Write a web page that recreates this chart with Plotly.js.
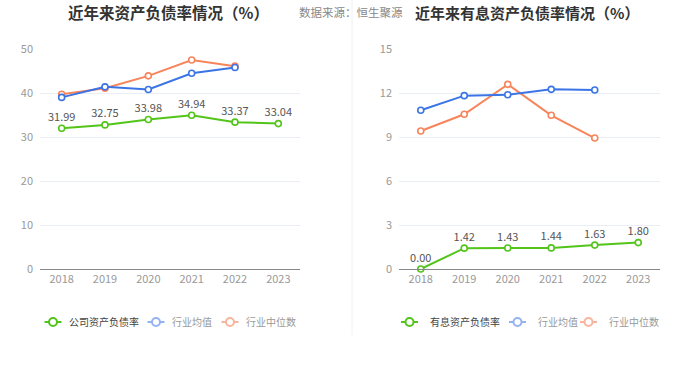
<!DOCTYPE html>
<html><head><meta charset="utf-8">
<script src="https://cdn.plot.ly/plotly-3.0.1.min.js"></script>
<style>html,body{margin:0;padding:0;background:#fff}#c{width:700px;height:377px}</style>
</head><body><div id="c"></div>
<script>
const years = ['2018','2019','2020','2021','2022','2023'];
const companyDebt = [31.99, 32.75, 33.98, 34.94, 33.37, 33.04];
const industryAvgDebt = [39.0, 41.4, 40.8, 44.5, 45.8, null];
const industryMedDebt = [39.7, 41.1, 43.9, 47.5, 46.1, null];
const companyInt = [0.00, 1.42, 1.43, 1.44, 1.63, 1.80];
const industryAvgInt = [10.82, 11.82, 11.88, 12.25, 12.20, null];
const industryMedInt = [9.41, 10.55, 12.59, 10.48, 8.93, null];
const leftTitle = '近年来资产负债率情况（%）';
const rightTitle = '近年来有息资产负债率情况（%）';
const source = '数据来源：恒生聚源';
const leftNames = ['公司资产负债率','行业均值','行业中位数'];
const rightNames = ['有息资产负债率','行业均值','行业中位数'];

const GREEN='#52c41a', BLUE='#3a74e6', ORANGE='#f7845a';
const LBLUE='#93b2f2', LORANGE='#f8b49c';
const FONT='"Noto Sans CJK SC", "Noto Sans", sans-serif';

function line(x,y,color,xa,ya,opts){
  return Object.assign({type:'scatter',mode:'lines+markers',x:x,y:y,xaxis:xa,yaxis:ya,
    line:{color:color,width:2},marker:{symbol:'circle',size:6,color:'#fff',line:{color:color,width:1.6}},
    hoverinfo:'skip',showlegend:false,cliponaxis:false},opts||{});
}
function legendItem(name,color,lg,textColor,w){
  return {type:'scatter',mode:'lines+markers',x:[null],y:[null],name:'<span style="color:'+textColor+'">'+name+'</span>',
    legend:lg,legendwidth:w,line:{color:color,width:2},marker:{symbol:'circle',size:8,color:'#fff',line:{color:color,width:2}},hoverinfo:'skip'};
}
function labelTexts(v){return v.map(d=>d.toFixed(2));}

const traces=[
  line(years,industryMedDebt,ORANGE,'x','y'),
  line(years,industryAvgDebt,BLUE,'x','y'),
  line(years,companyDebt,GREEN,'x','y',{mode:'lines+markers+text',text:labelTexts(companyDebt),textposition:'top center',textfont:{size:11,color:'#555',family:FONT}}),
  line(years,industryMedInt,ORANGE,'x2','y2'),
  line(years,industryAvgInt,BLUE,'x2','y2'),
  line(years,companyInt,GREEN,'x2','y2',{mode:'lines+markers+text',text:labelTexts(companyInt),textposition:'top center',textfont:{size:11,color:'#555',family:FONT}}),
  legendItem(leftNames[0],GREEN,'legend','#444',58),
  legendItem(leftNames[1],LBLUE,'legend','#999',29),
  legendItem(leftNames[2],LORANGE,'legend','#999',50),
  legendItem(rightNames[0],GREEN,'legend2','#444',63),
  legendItem(rightNames[1],LBLUE,'legend2','#999',26),
  legendItem(rightNames[2],LORANGE,'legend2','#999',50),
];
const yb=(377-269)/377, yt=(377-49)/377;
const xaxisBase={type:'category',range:[-0.5,5.5],showgrid:false,zeroline:false,showline:true,linecolor:'#888',linewidth:1,
  ticks:'',tickfont:{size:11,color:'#999',family:FONT},fixedrange:true};
const yaxisBase={showgrid:true,gridcolor:'#e9edf5',gridwidth:1,zeroline:false,showline:false,ticks:'',
  tickfont:{size:11,color:'#999',family:FONT},ticklabelstandoff:6,fixedrange:true};
const legBase={orientation:'h',yanchor:'middle',y:(377-322)/377,xanchor:'left',font:{size:10,family:FONT,color:'#666'},
  bgcolor:'rgba(0,0,0,0)',itemwidth:30,tracegroupgap:0,itemclick:false};
const layout={
  width:700,height:377,margin:{l:0,r:0,t:0,b:0},paper_bgcolor:'#fff',plot_bgcolor:'#fff',
  font:{family:FONT},
  xaxis:Object.assign({},xaxisBase,{domain:[40/700,300/700],anchor:'y'}),
  yaxis:Object.assign({},yaxisBase,{domain:[yb,yt],range:[0,50],dtick:10,anchor:'x'}),
  xaxis2:Object.assign({},xaxisBase,{domain:[399/700,660/700],anchor:'y2'}),
  yaxis2:Object.assign({},yaxisBase,{domain:[yb,yt],range:[0,15],dtick:3,anchor:'x2'}),
  legend:Object.assign({},legBase,{x:33.5/700}),
  legend2:Object.assign({},legBase,{x:390/700}),
  showlegend:true,
  shapes:[{type:'line',xref:'paper',yref:'paper',x0:352/700,x1:352/700,y0:42/377,y1:1,line:{color:'#f0f0f0',width:1}}],
  annotations:[
    {xref:'paper',yref:'paper',x:168/700,y:(377-12)/377,xanchor:'center',yanchor:'middle',showarrow:false,text:'<b>'+leftTitle+'</b>',font:{size:15.5,color:'#333',family:FONT}},
    {xref:'paper',yref:'paper',x:527/700,y:(377-12)/377,xanchor:'center',yanchor:'middle',showarrow:false,text:'<b>'+rightTitle+'</b>',font:{size:15,color:'#333',family:FONT}},
    {xref:'paper',yref:'paper',x:297/700,y:(377-12)/377,xanchor:'left',yanchor:'middle',showarrow:false,text:source,font:{size:11.5,color:'#888',family:FONT}},
  ]
};
Plotly.newPlot('c',traces,layout,{displayModeBar:false,staticPlot:true}).then(function(gd){
  gd.querySelectorAll('.legendlines path').forEach(function(p){p.setAttribute('d','M11,0h17');});
  gd.querySelectorAll('.legendpoints path').forEach(function(p){p.setAttribute('transform','translate(19.5,0)');});
  gd.querySelectorAll('text.legendtext').forEach(function(t){t.setAttribute('x','35.5');
    t.querySelectorAll('tspan').forEach(function(s){if(s.getAttribute('x'))s.setAttribute('x','35.5');});});
});
</script></body></html>
